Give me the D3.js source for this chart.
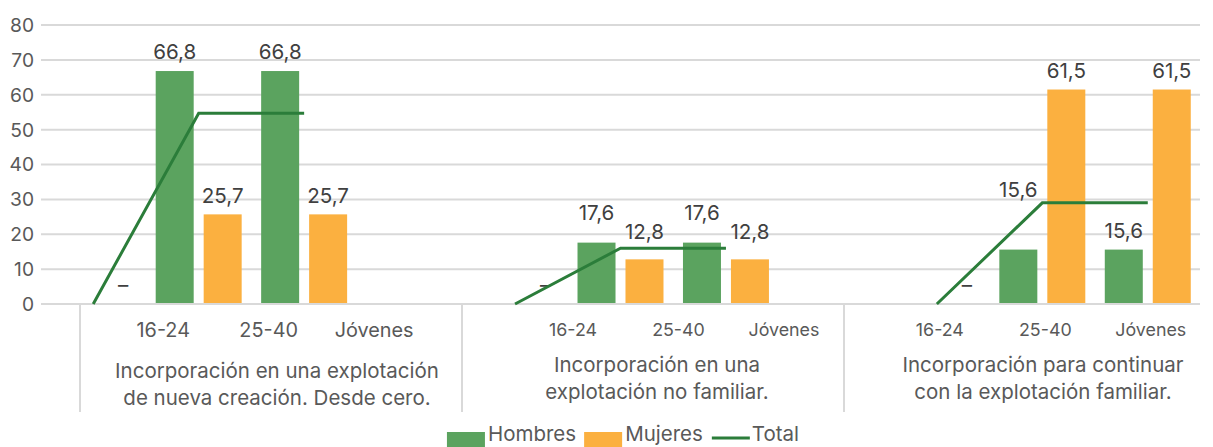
<!DOCTYPE html>
<html><head><meta charset="utf-8">
<script src="https://cdn.jsdelivr.net/npm/d3@7"></script>
<style>html,body{margin:0;padding:0;background:#fff;overflow:hidden}</style>
</head><body>
<svg id="c" width="1213" height="447"></svg>
<script>
// ---------------- DATA ----------------
const groupLabels = [
  ["Incorporación en una explotación", "de nueva creación. Desde cero."],
  ["Incorporación en una", "explotación no familiar."],
  ["Incorporación para continuar", "con la explotación familiar."]
];
const ageLabels = ["16-24", "25-40", "Jóvenes"];
// 11 category slots: 3 per group with an empty slot between groups
const slotGroup = [0, 0, 0, null, 1, 1, 1, null, 2, 2, 2];
const hombres = [0, 66.8, 66.8, null, 0, 17.6, 17.6, null, 0, 15.6, 15.6];
const mujeres = [0, 25.7, 25.7, null, 0, 12.8, 12.8, null, 0, 61.5, 61.5];
const total   = [0, 54.7, 54.7, null, 0, 16.0, 16.0, null, 0, 29.0, 29.0];
const yTicks = [0, 10, 20, 30, 40, 50, 60, 70, 80];
const seriesNames = ["Hombres", "Mujeres", "Total"];

// ---------------- LAYOUT ----------------
const FONT = "Inter, 'Open Sans', sans-serif";
const C = { green: "#5ba35f", orange: "#fbb040", line: "#2b7d3a", grid: "#d9d9d9", text: "#404040", axisText: "#595959" };
// manual label nudges (pixels upward) as in the original chart
const hombresNudge = [0, 0, 0, 0, 0, 11, 11, 0, 0, 41, 0];
const mujeresNudge = [0, 0, 0, 0, 0, 9, 9, 0, 0, 0, 0];
const subLabelShift = [70, 58, 3];
const groupLabelShift = [6, 4, 8];

const svg = d3.select("#c");

function fitSize(str, targetW) {
  const t = svg.append("text").style("font-family", FONT).style("font-size", "100px").text(str);
  const w = t.node().getComputedTextLength();
  t.remove();
  return 100 * targetW / w;
}
const fsY = fitSize("80", 24);
const fsVal = fitSize("66,8", 43);
const fsSub1 = fitSize("Jóvenes", 79);
const fsSub = fitSize("Jóvenes", 71);
const fsGroup = Math.min(fitSize("Incorporación en una explotación", 328), 20.5);
const fsLeg = Math.min(fitSize("Hombres", 92), 20.5);

const x = d3.scaleBand().domain(d3.range(hombres.length)).range([40.5, 1200.5]).paddingInner(0).paddingOuter(0);
const xc = i => x(i) + x.bandwidth() / 2;
const xs = d3.scaleBand().domain(["h", "m"]).range([0, x.bandwidth()]).paddingInner(0.208).paddingOuter(0.203);
const y = d3.scaleLinear().domain([0, 80]).range([304, 25]);
const gx = d3.scaleBand().domain([0, 1, 2]).range([80, 80 + 3 * 382]);

// gridlines
svg.append("g").selectAll("line").data(yTicks).join("line")
  .attr("x1", 41).attr("x2", 1200)
  .attr("y1", d => y(d)).attr("y2", d => y(d))
  .attr("stroke", C.grid).attr("stroke-width", 2);

// y labels
svg.append("g").selectAll("text").data(yTicks).join("text")
  .attr("x", 34).attr("y", d => y(d))
  .attr("dy", "0.36em").attr("text-anchor", "end")
  .style("font-family", FONT).style("font-size", fsY + "px").attr("fill", C.axisText)
  .text(d => d);

// group separators
svg.append("g").selectAll("line").data([0, 1, 2]).join("line")
  .attr("x1", d => gx(d)).attr("x2", d => gx(d))
  .attr("y1", 304).attr("y2", 412)
  .attr("stroke", C.grid).attr("stroke-width", 2);

// bars
const slots = d3.range(hombres.length).filter(i => hombres[i] != null);
const barData = [];
slots.forEach(i => {
  barData.push({ i, k: "h", v: hombres[i], color: C.green, nudge: hombresNudge[i] });
  barData.push({ i, k: "m", v: mujeres[i], color: C.orange, nudge: mujeresNudge[i] });
});
svg.append("g").selectAll("rect").data(barData.filter(d => d.v > 0)).join("rect")
  .attr("x", d => x(d.i) + xs(d.k)).attr("width", xs.bandwidth())
  .attr("y", d => y(d.v)).attr("height", d => y(0) - y(d.v) - 1)
  .attr("fill", d => d.color);

// value labels
const fmt = v => d3.format(".1f")(v).replace(".", ",");
const labelData = barData.filter(d => d.v > 0 || d.k === "m");
svg.append("g").selectAll("text").data(labelData).join("text")
  .attr("x", d => x(d.i) + xs(d.k) + xs.bandwidth() / 2 + (d.v === 0 ? 6 : 0))
  .attr("y", d => y(d.v) - 19 - d.nudge)
  .attr("dy", "0.36em").attr("text-anchor", "middle")
  .style("font-family", FONT).style("font-size", fsVal + "px").attr("fill", C.text)
  .text(d => d.v === 0 ? "–" : fmt(d.v));

// total line
const line = d3.line().defined(d => d.v != null).x(d => xc(d.i)).y(d => y(d.v));
svg.append("path").datum(total.map((v, i) => ({ i, v })))
  .attr("d", line).attr("fill", "none").attr("stroke", C.line).attr("stroke-width", 3).attr("stroke-linecap", "butt");

// sub (age) labels
const subData = [];
slots.forEach(i => subData.push({ i, g: slotGroup[i], k: slots.filter(j => slotGroup[j] === slotGroup[i]).indexOf(i) }));
svg.append("g").selectAll("text").data(subData).join("text")
  .attr("x", d => xc(d.i) + subLabelShift[d.g]).attr("y", 330)
  .attr("dy", "0.36em").attr("text-anchor", "middle")
  .style("font-family", FONT).style("font-size", d => (d.g === 0 ? fsSub1 : fsSub) + "px").attr("fill", C.axisText)
  .text(d => ageLabels[d.k]);

// group labels
const gl = svg.append("g").selectAll("text").data(groupLabels).join("text")
  .attr("text-anchor", "middle")
  .style("font-family", FONT).style("font-size", fsGroup + "px").attr("fill", C.axisText);
gl.selectAll("tspan").data((d, g) => d.map((s, li) => ({ s, li, g }))).join("tspan")
  .attr("x", d => gx(d.g) + gx.bandwidth() / 2 + groupLabelShift[d.g])
  .attr("y", d => (d.g === 0 ? 371 : 365) + d.li * 26.5)
  .attr("dy", "0.36em")
  .text(d => d.s);

// legend
const leg = svg.append("g");
const items = seriesNames.map((n, i) => {
  const t = leg.append("text").style("font-family", FONT).style("font-size", fsLeg + "px").attr("fill", C.axisText).text(n);
  return { n, i, t, w: t.node().getComputedTextLength() };
});
const sw = 38, gap = 3, itemGap = 8;
const totalW = d3.sum(items, d => sw + gap + d.w) + itemGap * (items.length - 1);
let cx = 623 - totalW / 2;
items.forEach(d => {
  if (d.i < 2) {
    leg.append("rect").attr("x", cx).attr("y", 432).attr("width", sw).attr("height", 15)
      .attr("fill", d.i === 0 ? C.green : C.orange);
  } else {
    leg.append("line").attr("x1", cx + 1).attr("x2", cx + sw + 1).attr("y1", 438).attr("y2", 438)
      .attr("stroke", C.line).attr("stroke-width", 3);
  }
  d.t.attr("x", cx + sw + gap).attr("y", 441);
  cx += sw + gap + d.w + itemGap;
});
</script>
</body></html>
